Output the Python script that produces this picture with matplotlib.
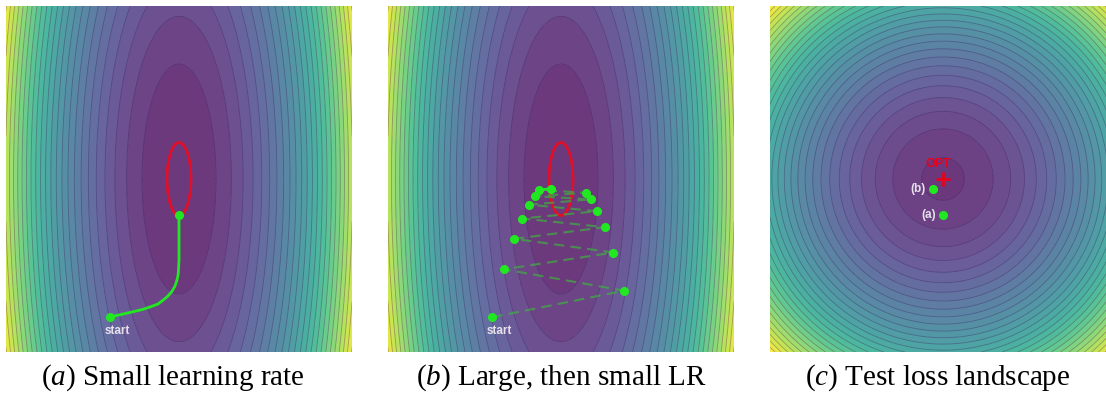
import numpy as np
import matplotlib
matplotlib.use('Agg')
import matplotlib.pyplot as plt
from matplotlib.colors import ListedColormap
from matplotlib.patches import Ellipse

plt.rcParams['mathtext.fontset'] = 'custom'
plt.rcParams['mathtext.rm'] = 'Liberation Serif'
plt.rcParams['mathtext.it'] = 'Liberation Serif:italic'

# landscape shapes (in panel pixel units, centre = optimum)
train_half_w = 37.0      # first train contour, horizontal half-width
train_half_h = 115.0     # first train contour, vertical half-height
test_radius = 45.4       # test loss scale
test_offset = 0.78       # test loss value at the optimum
train_levels = np.arange(0, 26)
test_levels = np.arange(0, 31)

# red region around the train minimum
red_w = 24
red_h = 73

# (a) small learning rate trajectory
traj_a_x = [-69, -58, -45.7, -36, -29, -21, -15.7, -11, -7.3, -4.5, -3, -1.5, -0.7, 0, 0]
traj_a_y = [-138, -135.5, -132.7, -130.3, -128, -125, -121, -117, -112.7, -108, -104.3, -99, -94.3, -81, -36]

# (b) large-then-small learning rate iterates
traj_b_x = [-68.7, 63.2, -57, 52.3, -46.7, 43.8, -38.8, 36.3, -31.7, 30, -26.3, 24.7, -21.8, -10.3]
traj_b_y = [-138.2, -111.7, -90.3, -73.5, -59.8, -48.2, -39.5, -32.2, -25.7, -20.3, -17.2, -13.8, -11, -9.8]

# (c) end points on the test landscape
end_labels = ['(a)', '(b)']
end_x = [traj_a_x[-1], traj_b_x[-1]]
end_y = [traj_a_y[-1], traj_b_y[-1]]

captions = ['($\\mathit{a}$) Small learning rate',
            '($\\mathit{b}$) Large, then small LR',
            '($\\mathit{c}$) Test loss landscape']
caption_x = [173, 561, 938]

W, H = 1106, 393
half = 173
vir = plt.get_cmap('viridis')(np.linspace(0, 1, 256))[:, :3]
cmap = ListedColormap(0.8 * vir + 0.2)

g = np.linspace(-half, half, 500)
X, Y = np.meshgrid(g, g)
F_train = (X / train_half_w) ** 2 + (Y / train_half_h) ** 2
F_test = (X ** 2 + Y ** 2) / test_radius ** 2 + test_offset

fig = plt.figure(figsize=(W / 100, H / 100), dpi=100)
lefts = [6, 388, 770]
axes = []
for i, left in enumerate(lefts):
    ax = fig.add_axes([left / W, (H - 352) / H, 346 / W, 346 / H])
    ax.set_xlim(-half, half)
    ax.set_ylim(-half, half)
    ax.axis('off')
    axes.append(ax)
    fig.text(caption_x[i] / W, (H - 385) / H, captions[i], ha='center', va='baseline',
             fontsize=21, family='Liberation Serif')

line_col = (0.22, 0.05, 0.32)
green = '#22e822'
lab_col = '#e6e0ea'

for ax, F, lv in [(axes[0], F_train, train_levels), (axes[1], F_train, train_levels),
                  (axes[2], F_test, test_levels)]:
    ax.contourf(X, Y, F, levels=lv, cmap=cmap)
    ax.contour(X, Y, F, levels=lv[1:], colors=[line_col], linewidths=0.6, alpha=0.35)

for ax in axes[:2]:
    ax.add_patch(Ellipse((0, 0), red_w, red_h, fill=False, edgecolor='#e0102a', lw=2, zorder=3))

# panel a
ax = axes[0]
ax.plot(traj_a_x, traj_a_y, color=green, lw=2, zorder=4)
ax.plot([traj_a_x[0], traj_a_x[-1]], [traj_a_y[0], traj_a_y[-1]], 'o', color=green, ms=5.5, zorder=5)

# panel b
ax = axes[1]
ax.plot(traj_b_x[:-1], traj_b_y[:-1], color='#3fb03f', lw=1.5, ls=(0, (5, 3)), alpha=0.7, zorder=4)
ax.plot(traj_b_x[-2:], traj_b_y[-2:], color=green, lw=2, zorder=4)
ax.plot(traj_b_x, traj_b_y, 'o', color=green, ms=5.5, zorder=5)

for ax, sx, sy in [(axes[0], traj_a_x[0], traj_a_y[0]), (axes[1], traj_b_x[0], traj_b_y[0])]:
    ax.annotate('start', (sx, sy), xytext=(5, -10), textcoords='offset points',
                ha='center', va='center', fontsize=8.5, fontweight='bold',
                family='Liberation Sans', color=lab_col, zorder=6)

# panel c
ax = axes[2]
ax.plot([0], [0], '+', color='#e8001c', ms=10, mew=2, zorder=5)
ax.annotate('OPT', (0, 0), xytext=(-3, 10.5), textcoords='offset points', ha='center',
            va='center', fontsize=9, fontweight='bold', family='Liberation Sans',
            color='#e8001c', zorder=6)
ax.plot(end_x, end_y, 'o', color=green, ms=5.5, zorder=5)
for lab, ex, ey in zip(end_labels, end_x, end_y):
    ax.annotate(lab, (ex, ey), xytext=(-5, 0), textcoords='offset points', ha='right',
                va='center', fontsize=8.5, fontweight='bold', family='Liberation Sans',
                color=lab_col, zorder=6)

fig.savefig('out.png', dpi=100)
